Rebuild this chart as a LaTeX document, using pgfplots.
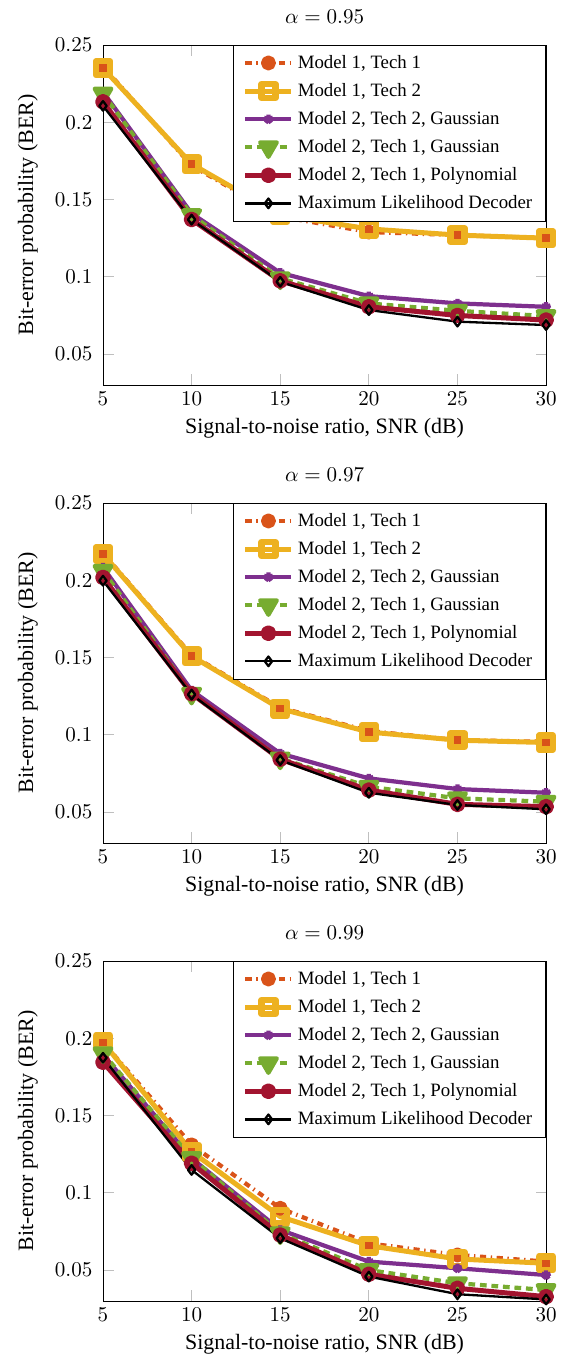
\documentclass[border=0pt]{standalone}
\usepackage{fontspec}
\setmainfont{Liberation Serif}
\usepackage{pgfplots}
\pgfplotsset{compat=1.18}
\definecolor{mOrange}{RGB}{217,83,25}
\definecolor{mYellow}{RGB}{237,177,32}
\definecolor{mPurple}{RGB}{126,47,142}
\definecolor{mGreen}{RGB}{119,172,48}
\definecolor{mRed}{RGB}{162,20,47}
\newcommand{\bigfont}{\fontsize{11.4}{13.5}\selectfont}
\pgfplotsset{
  berplot/.style={
    scale only axis, width=230.4pt, height=176.8pt,
    xmin=5, xmax=30, ymin=0.03, ymax=0.25,
    xtick={5,10,...,30}, ytick={0.05,0.1,0.15,0.2,0.25},
    scaled y ticks=false,
    yticklabel style={/pgf/number format/fixed, /pgf/number format/precision=2, xshift=-2pt},
    tick label style={font=\bigfont},
    label style={font=\bigfont},
    title style={font=\bigfont, yshift=1.5pt},
    ylabel shift=2pt,
    major tick length=5.5pt,
    tick style={gray!50, thin},
    xlabel={Signal-to-noise ratio, SNR (dB)},
    ylabel={Bit-error probability (BER)},
    legend cell align=left,
    legend style={at={(1,1)}, anchor=north east, draw=black, thin,
      font=\fontsize{9.8}{11.5}\selectfont, row sep=2.3pt, inner xsep=5pt, inner ysep=3pt},
    legend image code/.code={\draw[mark repeat=2,mark phase=2]
      plot coordinates {(0cm,0cm) (0.42cm,0cm) (0.84cm,0cm)};},
    every axis plot/.append style={line join=round},
  },
  s1/.style={color=mOrange, line width=2.2pt, dash pattern=on 3.2pt off 2.4pt on 0.7pt off 2.4pt,
    mark=*, mark size=2.8pt, mark options={solid, fill=mOrange}},
  s2/.style={color=mYellow, line width=2.6pt, mark=square, mark size=3.6pt,
    mark options={solid, line width=3.3pt}},
  s3/.style={color=mPurple, line width=2.2pt, mark=star, mark size=2.4pt, mark options={solid}},
  s4/.style={color=mGreen, line width=2.2pt, dash pattern=on 3.5pt off 2.5pt,
    mark=triangle*, mark size=5pt, mark options={solid, rotate=180, fill=mGreen}},
  s5/.style={color=mRed, line width=2.6pt, mark=o, mark size=2.6pt,
    mark options={solid, line width=3pt}},
  s6/.style={color=black, line width=1.2pt, mark=diamond, mark size=2.5pt, mark options={solid}},
}
\begin{document}
\begin{tikzpicture}
\path[use as bounding box] (0,0) rectangle (296.9pt,710.3pt);

% alpha = 0.95
\begin{axis}[berplot, at={(53.56pt,510.1pt)}, anchor=south west, title={$\alpha=0.95$}]
  \addplot[s1] coordinates {(5,0.236)(10,0.172)(15,0.139)(20,0.129)(25,0.127)(30,0.125)};
  \addplot[s2] coordinates {(5,0.235)(10,0.173)(15,0.140)(20,0.131)(25,0.127)(30,0.125)};
  \addplot[s3] coordinates {(5,0.2196)(10,0.141)(15,0.1026)(20,0.0875)(25,0.0828)(30,0.0806)};
  \addplot[s4] coordinates {(5,0.2186)(10,0.1399)(15,0.099)(20,0.0828)(25,0.078)(30,0.0746)};
  \addplot[s5] coordinates {(5,0.2132)(10,0.1371)(15,0.0974)(20,0.0806)(25,0.075)(30,0.072)};
  \addplot[s6] coordinates {(5,0.2106)(10,0.137)(15,0.0968)(20,0.0785)(25,0.071)(30,0.0688)};
  \legend{Model 1{,} Tech 1, Model 1{,} Tech 2, Model 2{,} Tech 2{,} Gaussian,
    Model 2{,} Tech 1{,} Gaussian, Model 2{,} Tech 1{,} Polynomial, Maximum Likelihood Decoder}
\end{axis}

% alpha = 0.97
\begin{axis}[berplot, at={(53.56pt,271.96pt)}, anchor=south west, title={$\alpha=0.97$}]
  \addplot[s1] coordinates {(5,0.2175)(10,0.1515)(15,0.1175)(20,0.1025)(25,0.0965)(30,0.0955)};
  \addplot[s2] coordinates {(5,0.2169)(10,0.1509)(15,0.1169)(20,0.1018)(25,0.0965)(30,0.095)};
  \addplot[s3] coordinates {(5,0.2083)(10,0.1287)(15,0.0879)(20,0.0718)(25,0.0649)(30,0.0625)};
  \addplot[s4] coordinates {(5,0.2061)(10,0.1266)(15,0.0847)(20,0.0664)(25,0.0589)(30,0.0567)};
  \addplot[s5] coordinates {(5,0.2018)(10,0.1266)(15,0.0842)(20,0.0642)(25,0.055)(30,0.0535)};
  \addplot[s6] coordinates {(5,0.1997)(10,0.126)(15,0.0836)(20,0.0625)(25,0.0546)(30,0.0518)};
  \legend{Model 1{,} Tech 1, Model 1{,} Tech 2, Model 2{,} Tech 2{,} Gaussian,
    Model 2{,} Tech 1{,} Gaussian, Model 2{,} Tech 1{,} Polynomial, Maximum Likelihood Decoder}
\end{axis}

% alpha = 0.99
\begin{axis}[berplot, at={(53.56pt,33.8pt)}, anchor=south west, title={$\alpha=0.99$}]
  \addplot[s1] coordinates {(5,0.1974)(10,0.131)(15,0.09)(20,0.0673)(25,0.0598)(30,0.0555)};
  \addplot[s2] coordinates {(5,0.1974)(10,0.1266)(15,0.0846)(20,0.0658)(25,0.0572)(30,0.0544)};
  \addplot[s3] coordinates {(5,0.1892)(10,0.1223)(15,0.076)(20,0.0555)(25,0.0512)(30,0.0468)};
  \addplot[s4] coordinates {(5,0.1903)(10,0.1225)(15,0.0738)(20,0.05)(25,0.0415)(30,0.0371)};
  \addplot[s5] coordinates {(5,0.1845)(10,0.1191)(15,0.0727)(20,0.0473)(25,0.0382)(30,0.0328)};
  \addplot[s6] coordinates {(5,0.1874)(10,0.1148)(15,0.0706)(20,0.0458)(25,0.0344)(30,0.031)};
  \legend{Model 1{,} Tech 1, Model 1{,} Tech 2, Model 2{,} Tech 2{,} Gaussian,
    Model 2{,} Tech 1{,} Gaussian, Model 2{,} Tech 1{,} Polynomial, Maximum Likelihood Decoder}
\end{axis}
\end{tikzpicture}
\end{document}
